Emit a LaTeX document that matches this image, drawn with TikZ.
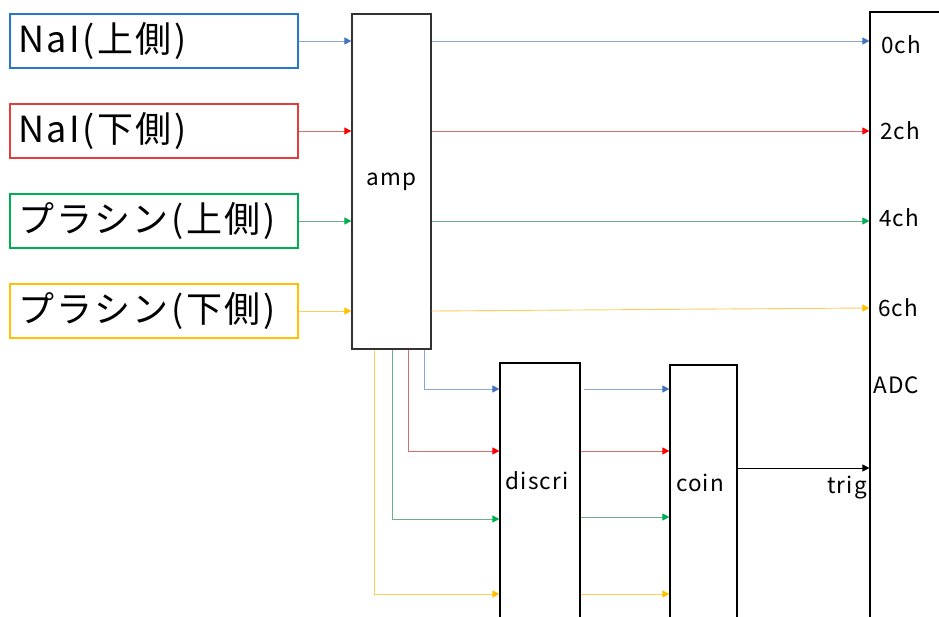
\documentclass[tikz,border=0pt]{standalone}
\usepackage{fontspec}
\setmainfont{Noto Sans CJK JP}
\newfontfamily\bigfnt[LetterSpace=7]{Noto Sans CJK JP}
\newfontfamily\smlfnt[LetterSpace=5]{Noto Sans CJK JP}
\usetikzlibrary{arrows.meta}
\definecolor{bblue}{RGB}{40,120,200}
\definecolor{bred}{RGB}{230,60,60}
\definecolor{bgreen}{RGB}{0,176,80}
\definecolor{byellow}{RGB}{255,192,0}
\definecolor{tblue}{RGB}{68,114,196}
\definecolor{tred}{RGB}{255,0,0}
\definecolor{tgreen}{RGB}{0,176,80}
\definecolor{tyellow}{RGB}{255,192,0}
\definecolor{lblue}{RGB}{140,165,215}
\definecolor{lred}{RGB}{215,110,110}
\definecolor{lgreen}{RGB}{110,175,135}
\definecolor{lyellow}{RGB}{255,205,90}
\definecolor{boxgray}{RGB}{50,50,50}
\begin{document}
\begin{tikzpicture}[x=1pt,y=-1pt,
  inbox/.style={draw, line width=1.2pt, minimum height=54pt, text width=272pt, align=left, inner xsep=8pt, inner ysep=0pt, font=\bigfnt\fontsize{36}{40}\selectfont},
  blk/.style={draw=boxgray, line width=1.3pt, fill=white},
  lab/.style={font=\smlfnt\fontsize{22.5}{26}\selectfont, inner sep=0pt},
  conn/.style={line width=0.9pt},
  cb/.style={conn, draw=lblue, -{Triangle[length=7pt,width=7pt,color=tblue]}},
  cr/.style={conn, draw=lred, -{Triangle[length=7pt,width=7pt,color=tred]}},
  cg/.style={conn, draw=lgreen, -{Triangle[length=7pt,width=7pt,color=tgreen]}},
  cy/.style={conn, draw=lyellow, -{Triangle[length=7pt,width=7pt,color=tyellow]}},
  ck/.style={conn, draw=black, line width=0.8pt, -{Triangle[length=7pt,width=7pt,color=black]}}
]
\useasboundingbox (0,0) rectangle (939,617);
\clip (0,0) rectangle (939,617);

% input boxes
\node[inbox, draw=bblue] (nai1) at (154,41) {NaI(上側)};
\node[inbox, draw=bred] (nai2) at (154,131) {NaI(下側)};
\node[inbox, draw=bgreen] (pl1) at (154,221) {プラシン(上側)};
\node[inbox, draw=byellow] (pl2) at (154,311) {プラシン(下側)};

% blocks
\node[blk, minimum width=79pt, minimum height=335pt, font=\smlfnt\fontsize{22.5}{26}\selectfont] (amp) at (391.5,181.5) {amp};
\node[blk, line width=1.2pt, draw=black, minimum width=100pt, minimum height=628pt] (adc) at (920,326) {};
\node[blk, line width=1.2pt, draw=black, minimum width=80pt, minimum height=277pt] (discri) at (540,501.5) {};
\node[blk, line width=1.2pt, draw=black, minimum width=67pt, minimum height=275pt] (coin) at (703.5,502.5) {};

% block texts
\node[lab] (discriT) at (537,481) {discri};
\node[lab] (coinT) at (700,483) {coin};
\node[lab, anchor=west] (ch0) at (881,45) {0ch};
\node[lab, anchor=west] (ch2) at (880,131) {2ch};
\node[lab, anchor=west] (ch4) at (879,218) {4ch};
\node[lab, anchor=west] (ch6) at (878,308) {6ch};
\node[lab, anchor=west] (adcT) at (873,385) {ADC};
\node[lab, anchor=east] (trigT) at (867,488) {trig};

% inputs to amp
\draw[cb] (nai1.east) -- (nai1.east -| amp.west);
\draw[cr] (nai2.east) -- (nai2.east -| amp.west);
\draw[cg] (pl1.east) -- (pl1.east -| amp.west);
\draw[cy] (pl2.east) -- (pl2.east -| amp.west);

% amp to ADC
\draw[cb] (amp.east |- nai1.east) -- (adc.west |- nai1.east);
\draw[cr] (amp.east |- nai2.east) -- (adc.west |- nai2.east);
\draw[cg] (amp.east |- pl1.east) -- (adc.west |- pl1.east);
\coordinate (y6) at (0,308);
\draw[cy] (amp.east |- pl2.east) -- (adc.west |- y6);

% amp to discri
\coordinate (xb) at (424,0);
\coordinate (xr) at (408,0);
\coordinate (xg) at (392,0);
\coordinate (xy) at (374,0);
\coordinate (yb) at (0,389);
\coordinate (yr) at (0,451);
\coordinate (yg) at (0,519);
\coordinate (yy) at (0,594);
\draw[cb] (amp.south -| xb) |- (discri.west |- yb);
\draw[cr] (amp.south -| xr) |- (discri.west |- yr);
\draw[cg] (amp.south -| xg) |- (discri.west |- yg);
\draw[cy] (amp.south -| xy) |- (discri.west |- yy);

% discri to coin
\coordinate (xgap) at (584,0);
\draw[cb] (xgap |- yb) -- (coin.west |- yb);
\draw[cr] (discri.east |- yr) -- (coin.west |- yr);
\coordinate (yg2) at (0,517);
\draw[cg] (discri.east |- yg2) -- (coin.west |- yg2);
\draw[cy] (discri.east |- yy) -- (coin.west |- yy);

% coin to ADC trig
\coordinate (yt) at (0,468);
\draw[ck] (coin.east |- yt) -- (adc.west |- yt);
\end{tikzpicture}
\end{document}
